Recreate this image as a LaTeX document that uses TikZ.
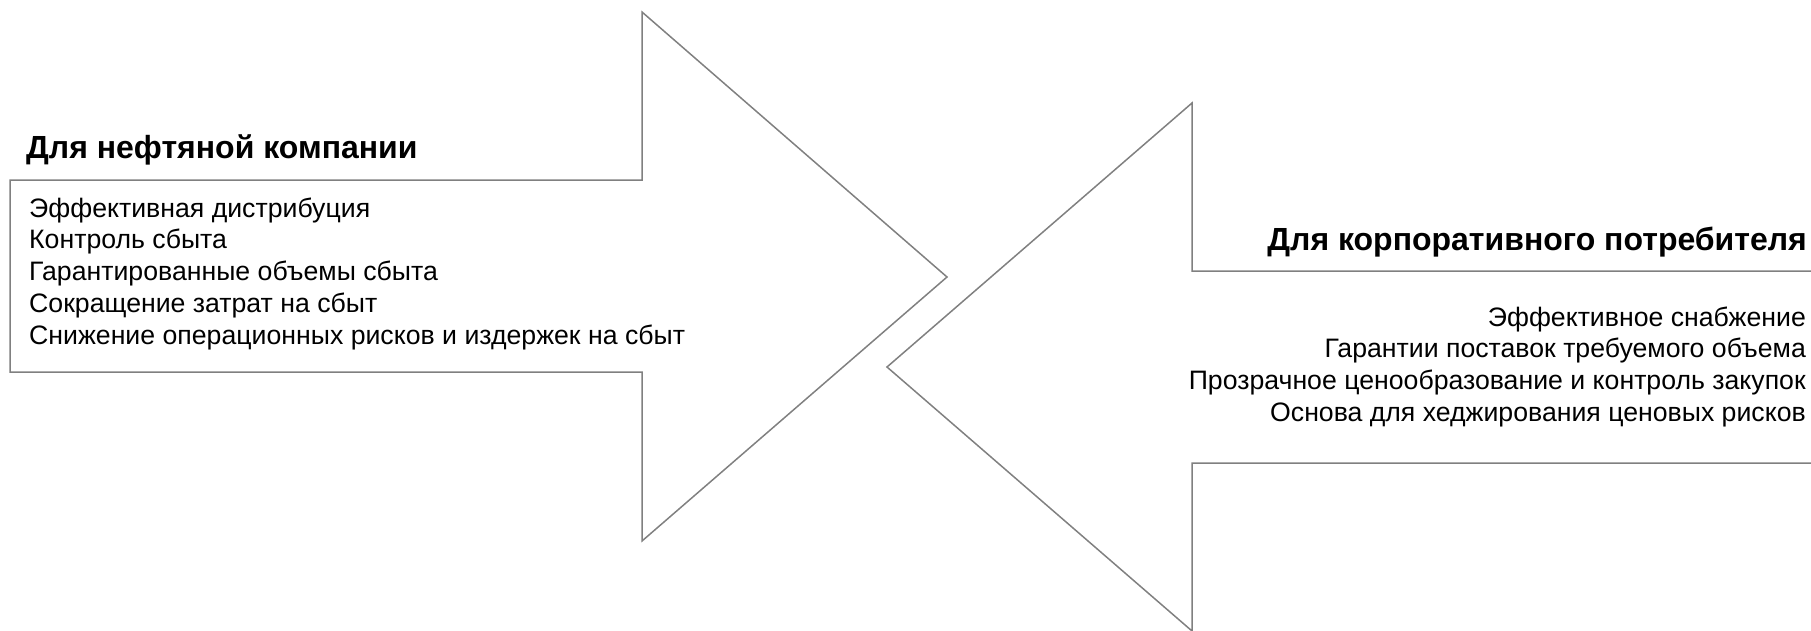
\documentclass[tikz,border=0pt]{standalone}
\usepackage{fontspec}
\setmainfont{Liberation Sans}
\begin{document}
\begin{tikzpicture}[x=1pt,y=-1pt,
  outline/.style={draw=black!50, line width=1.5pt, line join=miter},
  head/.style={font=\fontsize{32}{38}\selectfont\bfseries, inner sep=0pt},
  item/.style={font=\fontsize{26.67}{31.7}\selectfont, inner sep=0pt}]
\useasboundingbox (0,0) rectangle (1811,630);
% left arrow
\draw[outline] (10,180) -- (642,180) -- (642,12) -- (947,277) -- (642,541) -- (642,372) -- (10,372) -- cycle;
% right arrow
\draw[outline] (1830,271) -- (1192,271) -- (1192,103) -- (887,367) -- (1192,631) -- (1192,463) -- (1830,463);
% texts
\node[head, anchor=base west] (hl) at (26,158) {Для нефтяной компании};
\node[item, anchor=base west] (l1) at (29,217) {Эффективная дистрибуция};
\node[item, anchor=base west] (l2) at (29,248.75) {Контроль сбыта};
\node[item, anchor=base west] (l3) at (29,280.5) {Гарантированные объемы сбыта};
\node[item, anchor=base west] (l4) at (29,312.25) {Сокращение затрат на сбыт};
\node[item, anchor=base west] (l5) at (29,344) {Снижение операционных рисков и издержек на сбыт};
\node[head, anchor=base east] (hr) at (1807,250) {Для корпоративного потребителя};
\node[item, anchor=base east] (r1) at (1806,326) {Эффективное снабжение};
\node[item, anchor=base east] (r2) at (1806,357.7) {Гарантии поставок требуемого объема};
\node[item, anchor=base east] (r3) at (1806,389.3) {Прозрачное ценообразование и контроль закупок};
\node[item, anchor=base east] (r4) at (1806,421) {Основа для хеджирования ценовых рисков};
\end{tikzpicture}
\end{document}
